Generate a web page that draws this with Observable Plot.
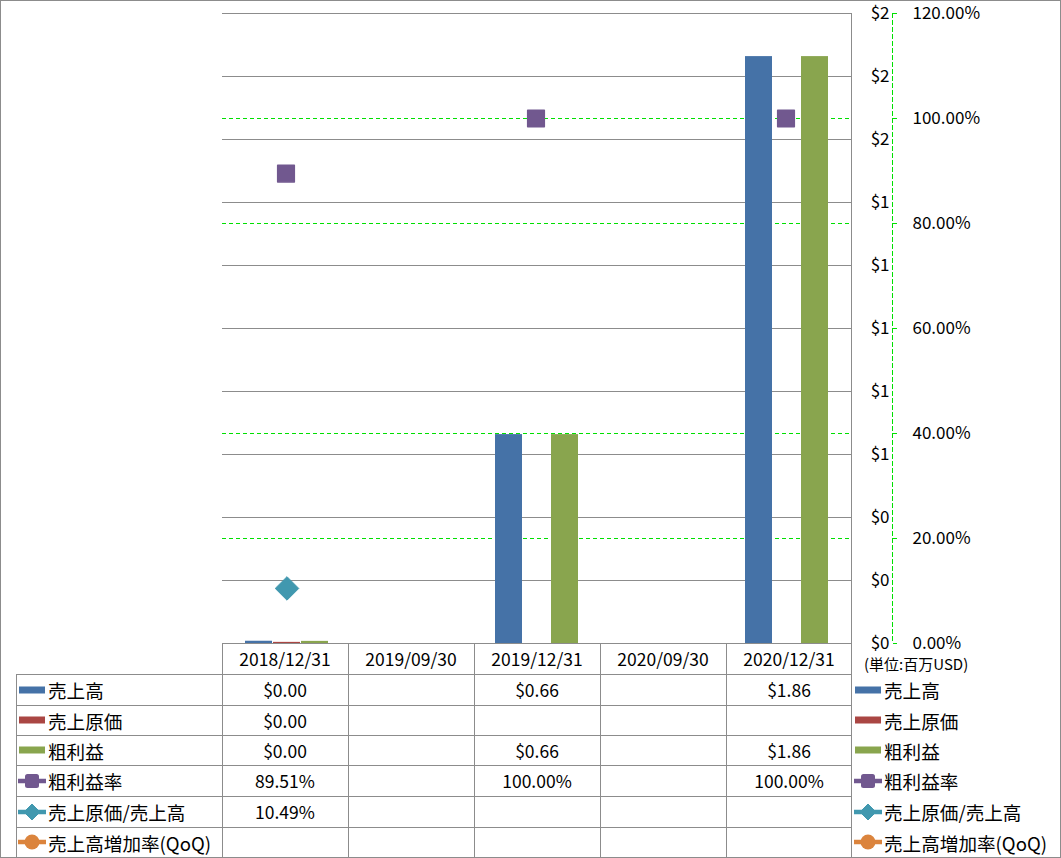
<!DOCTYPE html>
<html><head><meta charset="utf-8">
<script src="https://cdn.jsdelivr.net/npm/d3@7"></script>
<script src="https://cdn.jsdelivr.net/npm/@observablehq/plot@0.6"></script>
<style>
body{margin:0;background:#fff;}
#page{position:relative;width:1061px;height:858px;overflow:hidden;font-family:"Noto Sans CJK JP","Noto Sans",sans-serif;color:#000;background:#fff}
#frame{position:absolute;left:0;top:0;width:1061px;height:858px;box-sizing:border-box;border:1px solid #8c8c8c;pointer-events:none}
#chart{position:absolute;left:0;top:0}
.hl{position:absolute;height:1px;background:#8c8c8c}
.vl{position:absolute;width:1px;background:#8c8c8c}
.cell{position:absolute;display:flex;align-items:center;justify-content:center;font-size:17.5px;white-space:nowrap}
.lab{position:absolute;display:flex;align-items:center;font-size:18.6px;white-space:nowrap}
.lab svg{margin-right:2px;flex:none}
#unit{position:absolute;left:864px;top:657px;font-size:15px;line-height:13px;white-space:nowrap}
</style>
</head><body>
<div id="page"><div id="chart"></div><div id="tbl"></div><div id="unit">(単位:百万USD)</div><div id="frame"></div></div>
<script>
// ---- data ----
const dates = ["2018/12/31","2019/09/30","2019/12/31","2020/09/30","2020/12/31"];
const revenue = [0.004, null, 0.66, null, 1.86];
const costOfSales = [0.00042, null, null, null, null];
const grossProfit = [0.00358, null, 0.66, null, 1.86];
const grossMargin = [0.8951, null, 1.0, null, 1.0];
const costRatio = [0.1049, null, null, null, null];
const revenueGrowthQoQ = [null, null, null, null, null];
const seriesNames = ["売上高","売上原価","粗利益","粗利益率","売上原価/売上高","売上高増加率(QoQ)"];
const seriesColors = ["#4572A7","#AA4643","#89A54E","#71588F","#4198AF","#DB843D"];
const dollarTicks = [0,0.2,0.4,0.6,0.8,1.0,1.2,1.4,1.6,1.8,2.0];
const dollarTickLabels = ["$0","$0","$0","$1","$1","$1","$1","$1","$2","$2","$2"];
const pctTicks = [0,0.2,0.4,0.6,0.8,1.0,1.2];
const pctTickLabels = ["0.00%","20.00%","40.00%","60.00%","80.00%","100.00%","120.00%"];
const pctMax = 1.2, dollarMax = 2.0;

const pctToY = p => p / pctMax * dollarMax;
const rowsOf = arr => dates.map((d,i)=>({date:d, value:arr[i]})).filter(r=>r.value!=null);

const plot = Plot.plot({
  width: 1061, height: 660,
  marginLeft: 222, marginRight: 210, marginTop: 13, marginBottom: 17,
  style: {fontFamily: '"Noto Sans CJK JP","Noto Sans",sans-serif', fontSize: "17px", background: "transparent", overflow: "visible"},
  x: {type: "band", domain: dates, padding: 0, axis: null},
  y: {domain: [0, dollarMax], axis: null},
  marks: [
    Plot.ruleY(pctTicks.slice(1, -1), {y: pctToY, stroke: "#00e000", strokeWidth: 1, strokeDasharray: "4,3"}),
    Plot.ruleY(dollarTicks, {y: d => d, stroke: "#8c8c8c", strokeWidth: 1}),
    Plot.frame({anchor: "right", stroke: "#8c8c8c"}),
    Plot.frame({anchor: "right", dx: 41, stroke: "#00e000", strokeDasharray: "4,3"}),
    Plot.axisY(pctTicks.map(pctToY), {anchor: "right", dx: 41, tickSize: 4, stroke: "#00e000", tickFormat: () => "", label: null}),
    Plot.barY(rowsOf(revenue), {x: "date", y: "value", fill: seriesColors[0], insetLeft: 21, insetRight: 77, insetTop: -1}),
    Plot.barY(rowsOf(costOfSales), {x: "date", y: "value", fill: seriesColors[1], insetLeft: 49, insetRight: 49, insetTop: -1}),
    Plot.barY(rowsOf(grossProfit), {x: "date", y: "value", fill: seriesColors[2], insetLeft: 77, insetRight: 21, insetTop: -1}),
    Plot.dot(rowsOf(grossMargin), {x: "date", y: d => pctToY(d.value), dx: -1, symbol: "square", r: 9.4, fill: seriesColors[3], stroke: seriesColors[3], strokeWidth: 1.5, strokeLinejoin: "round"}),
    Plot.dot(rowsOf(costRatio), {x: "date", y: d => pctToY(d.value), symbol: "diamond2", r: 10.6, fill: seriesColors[4], stroke: seriesColors[4], strokeWidth: 1, strokeLinejoin: "round"}),
    Plot.dot(rowsOf(revenueGrowthQoQ), {x: "date", y: d => pctToY(d.value), symbol: "circle", r: 7, fill: seriesColors[5]}),
    Plot.text(dollarTicks, {y: d => d, text: (d, i) => dollarTickLabels[i], frameAnchor: "right", dx: 38, textAnchor: "end", fill: "#000"}),
    Plot.text(pctTicks, {y: pctToY, text: (d, i) => pctTickLabels[i], frameAnchor: "right", dx: 61, textAnchor: "start", fill: "#000"})
  ]
});
document.getElementById("chart").appendChild(plot);

// ---- data table with legend ----
const tbl = document.getElementById("tbl");
const colX = [222, 348, 474, 600, 726, 852];
const rowY = [674, 705, 735, 765, 796, 827, 857];
const headTop = 643, labelLeft = 16;
function div(cls, css, html){const e=document.createElement("div");e.className=cls;Object.assign(e.style,css);if(html!=null)e.innerHTML=html;tbl.appendChild(e);return e;}
// lines
div("hl",{left:colX[0]+"px",top:headTop+"px",width:(colX[5]-colX[0])+"px"});
rowY.slice(0,-1).forEach(y=>div("hl",{left:labelLeft+"px",top:y+"px",width:(colX[5]-labelLeft)+"px"}));
div("vl",{left:labelLeft+"px",top:rowY[0]+"px",height:(rowY[6]-rowY[0])+"px"});
colX.slice(0,-1).forEach(x=>div("vl",{left:x+"px",top:headTop+"px",height:(rowY[6]-headTop)+"px"}));
div("vl",{left:(colX[5]-1)+"px",top:headTop+"px",height:(rowY[6]-headTop)+"px"});
// header
dates.forEach((d,i)=>div("cell",{left:colX[i]+"px",top:headTop+"px",width:(colX[i+1]-colX[i])+"px",height:(rowY[0]-headTop)+"px"},d));
// symbols
function sym(k){
  const c=seriesColors[k];
  let s='<svg width="28" height="18" viewBox="0 0 28 18">';
  if(k<3) s+=`<rect x="1" y="5.5" width="26" height="7" fill="${c}"/>`;
  else {
    s+=`<line x1="0" y1="9" x2="28" y2="9" stroke="${c}" stroke-width="4.5" stroke-linecap="round"/>`;
    if(k===3) s+=`<rect x="7" y="2" width="14" height="14" rx="2.5" fill="${c}"/>`;
    if(k===4) s+=`<path d="M14 1 L22 9 L14 17 L6 9 Z" fill="${c}" stroke="${c}" stroke-linejoin="round"/>`;
    if(k===5) s+=`<circle cx="14" cy="9" r="7.5" fill="${c}"/>`;
  }
  return s+'</svg>';
}
const seriesData = [revenue, costOfSales, grossProfit, grossMargin, costRatio, revenueGrowthQoQ];
const fmt = k => v => v==null ? "" : (k<3 ? "$"+v.toFixed(2) : (v*100).toFixed(2)+"%");
seriesNames.forEach((name,k)=>{
  const top=rowY[k], h=rowY[k+1]-rowY[k];
  div("lab",{left:(labelLeft+2)+"px",top:top+"px",height:h+"px"},sym(k)+name);
  seriesData[k].forEach((v,i)=>div("cell",{left:colX[i]+"px",top:top+"px",width:(colX[i+1]-colX[i])+"px",height:h+"px"},fmt(k)(v)));
  div("lab",{left:(colX[5]+2)+"px",top:top+"px",height:h+"px"},sym(k)+name);
});
</script>
</body></html>
